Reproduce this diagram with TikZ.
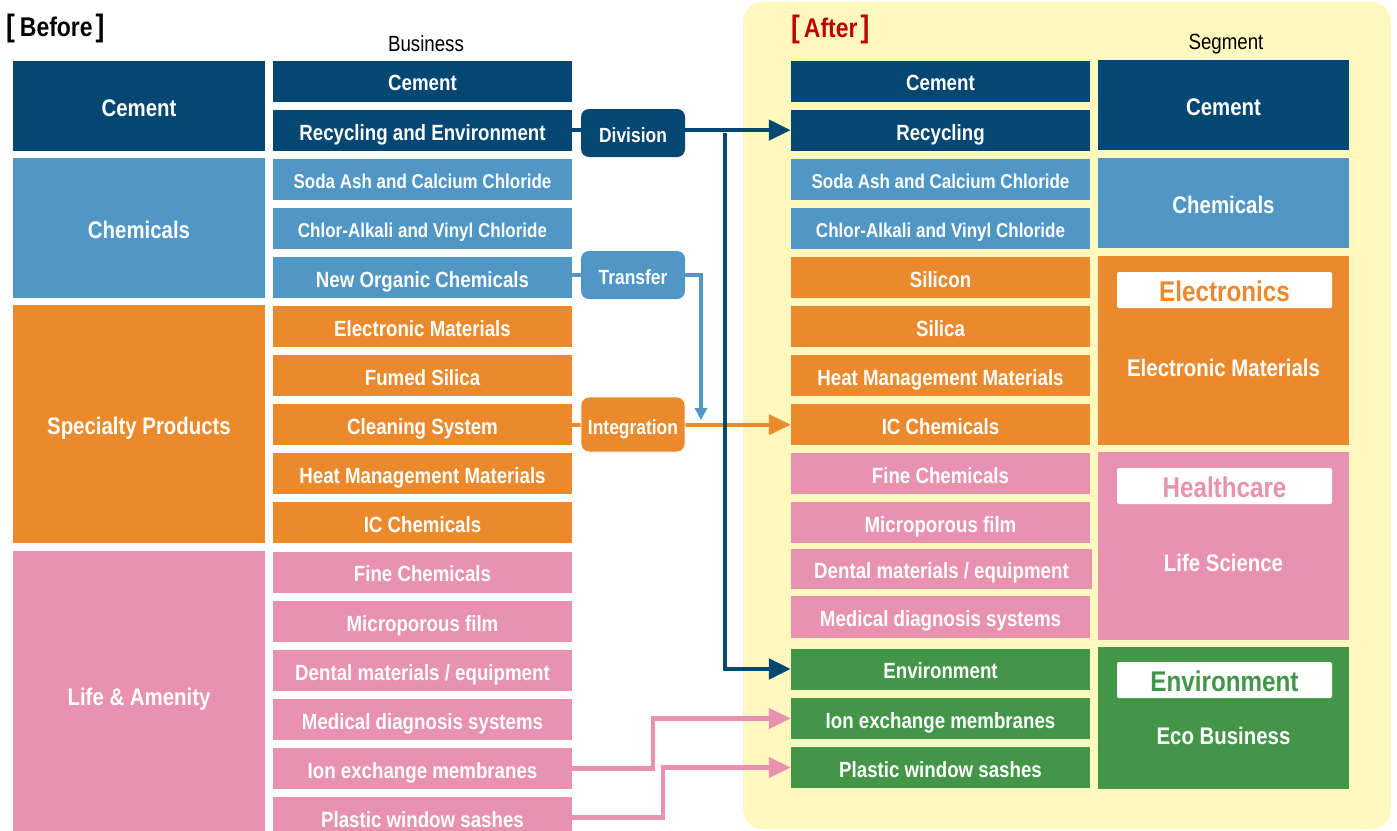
\documentclass[tikz,border=0pt]{standalone}
\usepackage{fontspec}
\setmainfont{Liberation Sans}
\newfontfamily\nb{Liberation Sans}[FakeStretch=0.85]
\usetikzlibrary{arrows.meta}
\definecolor{navy}{HTML}{044773}
\definecolor{lblue}{HTML}{5097C5}
\definecolor{orng}{HTML}{EB8A2D}
\definecolor{pnk}{HTML}{E891B0}
\definecolor{grn}{HTML}{439647}
\definecolor{ylw}{HTML}{FFF9C0}
\definecolor{rd}{HTML}{C00000}
\newcommand\brk[1]{{\fontsize{31}{31}\selectfont#1}}
\pgfdeclarelayer{bgl}
\pgfdeclarelayer{lines}
\pgfsetlayers{bgl,lines,main}
\tikzset{
  box/.style={inner sep=0pt, text=white, text height=19.8pt, text depth=0pt, font=\nb\bfseries\fontsize{22}{24}\selectfont},
  biz/.style={box, minimum width=299pt, minimum height=41pt},
  small/.style={font=\nb\bfseries\fontsize{20}{22}\selectfont, text height=18.3pt},
  segL/.style={box, minimum width=252pt, text height=21.2pt, font=\nb\bfseries\fontsize{24}{26}\selectfont},
  segR/.style={box, minimum width=251pt, text height=21.2pt, font=\nb\bfseries\fontsize{24}{26}\selectfont},
  pill/.style={box, rounded corners=8pt, minimum width=104pt, text height=19.7pt, font=\nb\bfseries\fontsize{20.5}{22}\selectfont},
  tag/.style={fill=white, rounded corners=2pt, minimum width=215pt, minimum height=36pt, inner sep=0pt, text height=22.4pt, text depth=0pt, font=\nb\bfseries\fontsize{28.5}{30}\selectfont},
  seglab/.style={text=white, inner sep=0pt, text height=21.2pt, text depth=0pt, font=\nb\bfseries\fontsize{24}{26}\selectfont},
  hdr/.style={inner sep=0pt, font=\nb\fontsize{22}{24}\selectfont},
  conn/.style={line width=4.5pt},
  bigtip/.style={-{Triangle[length=22pt,width=20pt]}},
}
\begin{document}
\begin{tikzpicture}[x=1pt,y=-1pt]
\useasboundingbox (0,0) rectangle (1397,830);
\begin{pgfonlayer}{bgl}
\fill[ylw, rounded corners=20pt] (743,2) rectangle (1391,829);
\end{pgfonlayer}
% headings
\node[anchor=base west, inner sep=0pt, font=\nb\bfseries\fontsize{27}{29}\selectfont] (before) at (6,36) {\brk{[}\hspace{5pt}Before\hspace{3pt}\brk{]}};
\node[anchor=base west, inner sep=0pt, text=rd, font=\nb\bfseries\fontsize{27}{29}\selectfont] (after) at (791,37) {\brk{[}\hspace{4pt}After\hspace{3pt}\brk{]}};
\node[hdr] (bizh) at (426,44) {Business};
\node[hdr] (segh) at (1226,44) {Segment};
% left segments
\node[segL, fill=navy, minimum height=90pt] (lcem) at (139,106) {Cement};
\node[segL, fill=lblue, minimum height=140pt] (lchem) at (139,228) {Chemicals};
\node[segL, fill=orng, minimum height=238pt] (lspec) at (139,424) {Specialty Products};
\node[segL, fill=pnk, minimum height=288pt] (llife) at (139,695) {Life \& Amenity};
% left business
\node[biz, fill=navy] (bL0) at (422.5,81) {Cement};
\node[biz, fill=navy] (bL1) at (422.5,130.1) {Recycling and Environment};
\node[biz, small, fill=lblue] (bL2) at (422.5,179.2) {Soda Ash and Calcium Chloride};
\node[biz, small, fill=lblue] (bL3) at (422.5,228.3) {Chlor-Alkali and Vinyl Chloride};
\node[biz, fill=lblue] (bL4) at (422.5,277.4) {New Organic Chemicals};
\node[biz, fill=orng] (bL5) at (422.5,326.5) {Electronic Materials};
\node[biz, fill=orng] (bL6) at (422.5,375.6) {Fumed Silica};
\node[biz, fill=orng] (bL7) at (422.5,424.7) {Cleaning System};
\node[biz, fill=orng] (bL8) at (422.5,473.8) {Heat Management Materials};
\node[biz, fill=orng] (bL9) at (422.5,522.9) {IC Chemicals};
\node[biz, fill=pnk] (bL10) at (422.5,572) {Fine Chemicals};
\node[biz, fill=pnk] (bL11) at (422.5,621.1) {Microporous film};
\node[biz, fill=pnk] (bL12) at (422.5,670.2) {Dental materials / equipment};
\node[biz, fill=pnk] (bL13) at (422.5,719.3) {Medical diagnosis systems};
\node[biz, fill=pnk] (bL14) at (422.5,768.4) {Ion exchange membranes};
\node[biz, fill=pnk] (bL15) at (422.5,817.5) {Plastic window sashes};
% pills
\node[pill, fill=navy, minimum height=48pt] (div) at (633,133) {Division};
\node[pill, fill=lblue, minimum height=48pt] (tra) at (633,275) {Transfer};
\node[pill, fill=orng, minimum height=55pt, draw=white, line width=0.8pt] (int) at (633,424.5) {Integration};
% right business
\node[biz, fill=navy] (bR0) at (940.5,81) {Cement};
\node[biz, fill=navy] (bR1) at (940.5,130.1) {Recycling};
\node[biz, small, fill=lblue] (bR2) at (940.5,179.2) {Soda Ash and Calcium Chloride};
\node[biz, small, fill=lblue] (bR3) at (940.5,228.3) {Chlor-Alkali and Vinyl Chloride};
\node[biz, fill=orng] (bR4) at (940.5,277.4) {Silicon};
\node[biz, fill=orng] (bR5) at (940.5,326.5) {Silica};
\node[biz, fill=orng] (bR6) at (940.5,375.6) {Heat Management Materials};
\node[biz, fill=orng] (bR7) at (940.5,424.7) {IC Chemicals};
\node[biz, fill=pnk] (bR8) at (940.5,473.8) {Fine Chemicals};
\node[biz, fill=pnk] (bR9) at (940.5,522.9) {Microporous film};
\node[biz, fill=pnk, minimum width=301pt, minimum height=40pt] (bR10) at (941.5,569) {Dental materials / equipment};
\node[biz, fill=pnk, minimum height=42pt] (bR11) at (940.5,617) {Medical diagnosis systems};
\node[biz, fill=grn] (bR12) at (940.5,669) {Environment};
\node[biz, fill=grn] (bR13) at (940.5,718.5) {Ion exchange membranes};
\node[biz, fill=grn] (bR14) at (940.5,767.5) {Plastic window sashes};
% right segments
\node[segR, fill=navy, minimum height=90pt] (scem) at (1223.5,105) {Cement};
\node[segR, fill=lblue, minimum height=90pt] (schem) at (1223.5,203) {Chemicals};
\node[segR, fill=orng, minimum height=189pt] (selec) at (1223.5,350.5) {};
\node[segR, fill=pnk, minimum height=188pt] (sheal) at (1223.5,546) {};
\node[segR, fill=grn, minimum height=142pt] (senv) at (1223.5,718) {};
\node[tag, text=orng] (telec) at (1224.5,290) {Electronics};
\node[seglab] (lelec) at (1223.5,366) {Electronic Materials};
\node[tag, text=pnk] (theal) at (1224.5,486) {Healthcare};
\node[seglab] (lheal) at (1223.5,561) {Life Science};
\node[tag, text=grn] (tenv) at (1224.5,680) {Environment};
\node[seglab] (lenv) at (1223.5,734) {Eco Business};
% connectors
\coordinate (dtop) at (725,133);
\coordinate (ttip) at (701,420);
\coordinate (p1) at (653,0);
\coordinate (p2) at (663,0);
\begin{pgfonlayer}{lines}
\draw[conn, orng, line width=4pt, bigtip] (bL7.east) -- (bR7.west);
\draw[conn, lblue, line width=3.8pt, -{Triangle[length=12pt,width=12pt]}] (bL4.east |- tra.east) -| (ttip);
\draw[conn, navy, bigtip] (bL1.east) -- (bR1.west);
\draw[conn, navy, line width=4.8pt, bigtip] (dtop) |- (bR12.west);
\draw[conn, pnk, line width=4.2pt, bigtip] (bL14.east) -- (bL14.east -| p1) |- (bR13.west);
\draw[conn, pnk, line width=4.2pt, bigtip] (bL15.east) -- (bL15.east -| p2) |- (bR14.west);
\end{pgfonlayer}
\end{tikzpicture}
\end{document}
